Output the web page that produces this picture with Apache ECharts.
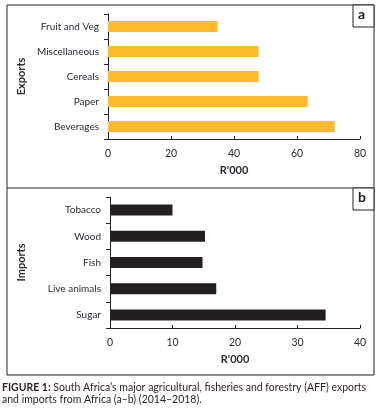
<!DOCTYPE html>
<html><head><meta charset="utf-8">
<script src="https://cdn.jsdelivr.net/npm/echarts@6/dist/echarts.min.js"></script>
<style>html,body{margin:0;padding:0;background:#fff}#c{width:382px;height:410px}</style>
</head><body><div id="c"></div>
<script>
// bottom-to-top order (ECharts category y-axis starts at bottom)
const exportCats = ['Beverages', 'Paper', 'Cereals', 'Miscellaneous', 'Fruit and Veg'];
const exportVals = [72, 63.4, 47.8, 47.8, 34.8];
const importCats = ['Sugar', 'Live animals', 'Fish', 'Wood', 'Tobacco'];
const importVals = [34.5, 17.0, 14.8, 15.2, 10.0];
const exportTicks = [0, 20, 40, 60, 80];
const importTicks = [0, 10, 20, 30, 40];

const FONT = 'Lato';
const TXT = '#2b2b35';
const chart = echarts.init(document.getElementById('c'), null, {renderer: 'canvas'});

function xAx(gi, ticks) {
  return {
    gridIndex: gi, type: 'value', min: ticks[0], max: ticks[ticks.length - 1],
    interval: ticks[1] - ticks[0],
    name: "R'000", nameLocation: 'middle', nameGap: 26, nameMoveOverlap: false,
    nameTextStyle: {fontFamily: FONT, fontSize: 11, fontWeight: 'bold', color: TXT},
    axisLine: {show: true, lineStyle: {color: '#222', width: 1}},
    axisTick: {show: true, inside: true, length: 3, lineStyle: {color: '#222'}},
    axisLabel: {fontFamily: FONT, fontSize: 10.5, color: TXT, margin: 9},
    splitLine: {show: false}
  };
}
function yAx(gi, cats, name, gap) {
  return {
    gridIndex: gi, type: 'category', data: cats,
    name: name, nameLocation: 'middle', nameGap: gap, nameRotate: 90, nameMoveOverlap: false,
    nameTextStyle: {fontFamily: FONT, fontSize: 11, fontWeight: 'bold', color: TXT},
    axisLine: {show: true, lineStyle: {color: '#222', width: 1}},
    axisTick: {show: true, length: 4, lineStyle: {color: '#222'}},
    axisLabel: {fontFamily: FONT, fontSize: 10, color: TXT, margin: 9}
  };
}

chart.setOption({
  animation: false,
  grid: [
    {left: 108, right: 22, top: 14, height: 125},
    {left: 110, right: 22, top: 197, height: 131}
  ],
  xAxis: [xAx(0, exportTicks), xAx(1, importTicks)],
  yAxis: [yAx(0, exportCats, 'Exports', 81), yAx(1, importCats, 'Imports', 83)],
  series: [
    {type: 'bar', xAxisIndex: 0, yAxisIndex: 0, data: exportVals, barWidth: 11,
     itemStyle: {color: '#FDBA2C'}},
    {type: 'bar', xAxisIndex: 1, yAxisIndex: 1, data: importVals, barWidth: 11,
     itemStyle: {color: '#231F20'}}
  ],
  graphic: [
    {type: 'rect', shape: {x: 7, y: 5, width: 367, height: 370}, style: {fill: 'none', stroke: '#222', lineWidth: 1}},
    {type: 'line', shape: {x1: 7, y1: 188, x2: 374, y2: 188}, style: {stroke: '#222', lineWidth: 1}},
    {type: 'rect', shape: {x: 353, y: 5, width: 21, height: 22}, style: {fill: '#fff', stroke: '#222', lineWidth: 1}},
    {type: 'rect', shape: {x: 353, y: 188, width: 21, height: 22}, style: {fill: '#fff', stroke: '#222', lineWidth: 1}},
    {type: 'text', left: 358, top: 7, style: {text: 'a', font: 'bold 14px Lato', fill: '#222'}},
    {type: 'text', left: 358, top: 190, style: {text: 'b', font: 'bold 14px Lato', fill: '#222'}},
    {type: 'text', left: 2, top: 382, style: {
      text: '{b|FIGURE 1:} South Africa\u2019s major agricultural, fisheries and forestry (AFF) exports\nand imports from Africa (a\u2013b) (2014\u20132018).',
      fill: '#2a1f22', font: '10.5px Lato', lineHeight: 12,
      rich: {b: {fontWeight: 'bold', fontFamily: 'Lato', fontSize: 10.5, fill: '#2a1f22'}}
    }}
  ]
});
</script></body></html>
